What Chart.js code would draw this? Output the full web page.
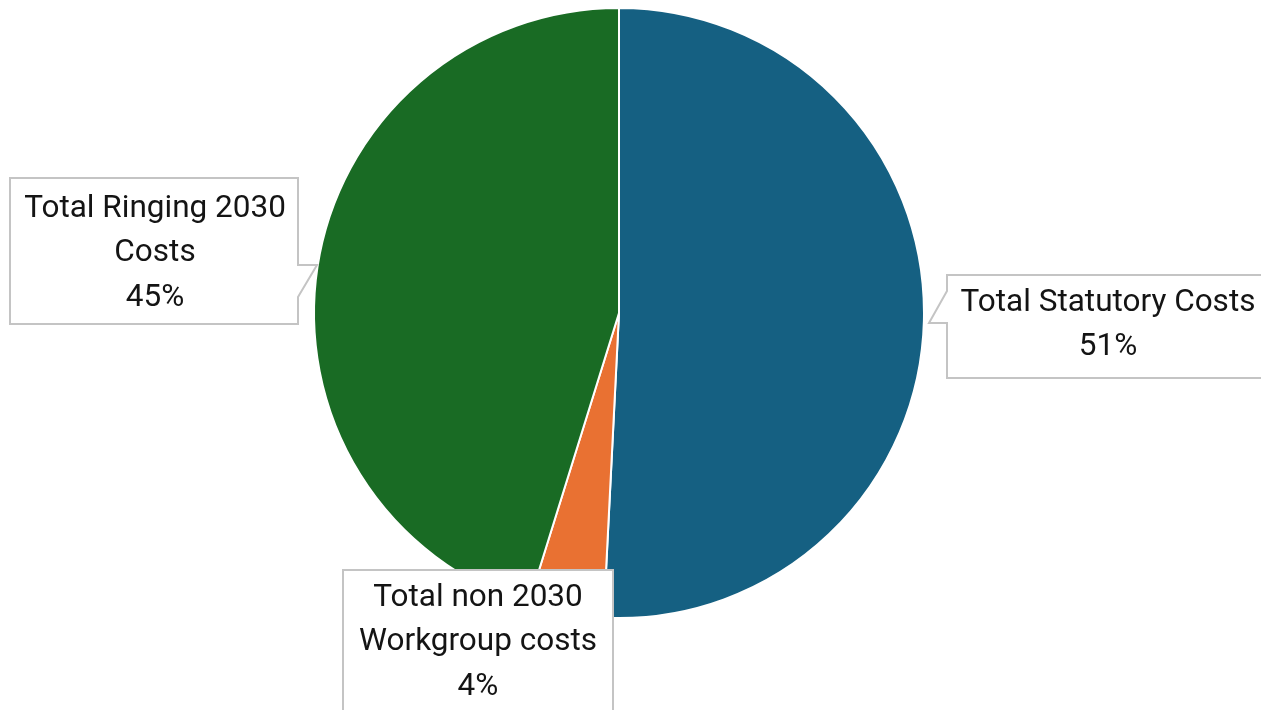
<!DOCTYPE html>
<html>
<head>
<meta charset="utf-8">
<script src="https://cdn.jsdelivr.net/npm/chart.js@4.4.1/dist/chart.umd.min.js"></script>
<style>
  html, body { margin: 0; padding: 0; background: #ffffff; }
  #wrap { width: 1261px; height: 710px; position: relative; }
</style>
</head>
<body>
<div id="wrap"><canvas id="c" width="1261" height="710"></canvas></div>
<script>
// ---- data ----
const categories = ["Total Statutory Costs", "Total non 2030 Workgroup costs", "Total Ringing 2030 Costs"];
const labelLines = [["Total Statutory Costs"], ["Total non 2030", "Workgroup costs"], ["Total Ringing 2030", "Costs"]];
const values = [50.8, 4.0, 45.2];
const colors = ["#156082", "#E97132", "#196B24"];

const total = values.reduce((a, b) => a + b, 0);

const calloutPlugin = {
  id: 'callouts',
  afterDraw(chart) {
    const ctx = chart.ctx;
    const boxes = [
      { x: 947, y: 275, w: 320, h: 103, cx: 1108, lineY: 303, ptr: [[947, 291], [929, 323], [947, 323]] },
      { x: 343, y: 570, w: 270, h: 160, cx: 478, lineY: 598, ptr: null },
      { x: 10, y: 178, w: 288, h: 146, cx: 155, lineY: 209, ptr: [[298, 265], [317, 265], [298, 297]] }
    ];
    ctx.save();
    boxes.forEach((b, i) => {
      ctx.beginPath();
      ctx.moveTo(b.x, b.y);
      ctx.lineTo(b.x + b.w, b.y);
      if (b.ptr && b.ptr[0][0] === b.x + b.w) {
        ctx.lineTo(b.x + b.w, b.ptr[0][1]);
        ctx.lineTo(b.ptr[1][0], b.ptr[1][1]);
        ctx.lineTo(b.ptr[2][0], b.ptr[2][1]);
      }
      ctx.lineTo(b.x + b.w, b.y + b.h);
      ctx.lineTo(b.x, b.y + b.h);
      if (b.ptr && b.ptr[0][0] === b.x) {
        ctx.lineTo(b.x, b.ptr[2][1]);
        ctx.lineTo(b.ptr[1][0], b.ptr[1][1]);
        ctx.lineTo(b.x, b.ptr[0][1]);
      }
      ctx.closePath();
      ctx.fillStyle = '#ffffff';
      ctx.fill();
      ctx.lineWidth = 2;
      ctx.strokeStyle = '#c4c4c4';
      ctx.stroke();

      const lines = labelLines[i].concat([Math.round(values[i] / total * 100) + '%']);
      ctx.fillStyle = '#141414';
      ctx.font = '31.5px Roboto, sans-serif';
      ctx.textAlign = 'center';
      ctx.textBaseline = 'middle';
      lines.forEach((t, k) => {
        ctx.fillText(t, b.cx, b.lineY + k * 44.5);
      });
    });
    ctx.restore();
  }
};

new Chart(document.getElementById('c'), {
  type: 'pie',
  data: {
    labels: categories,
    datasets: [{
      data: values,
      backgroundColor: colors,
      borderColor: '#ffffff',
      borderWidth: 2,
      hoverOffset: 0
    }]
  },
  options: {
    responsive: false,
    animation: false,
    rotation: 0,
    layout: { padding: { left: 313, right: 336, top: 7, bottom: 91 } },
    plugins: {
      legend: { display: false },
      tooltip: { enabled: false }
    }
  },
  plugins: [calloutPlugin]
});
</script>
</body>
</html>
